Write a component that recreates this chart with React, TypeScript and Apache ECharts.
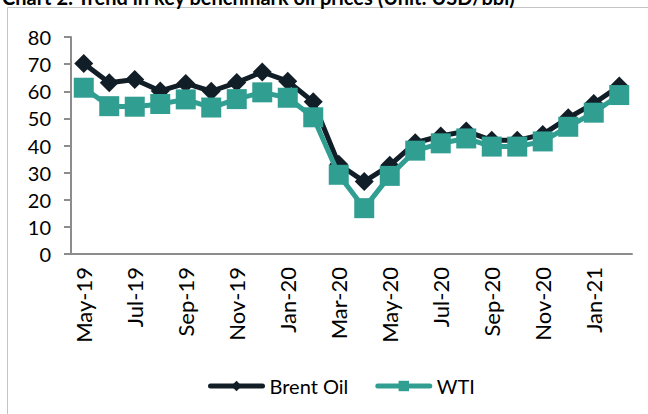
import React, { useEffect, useRef } from "react";
import * as echarts from "echarts";

const categories = [
  "May-19", "Jun-19", "Jul-19", "Aug-19", "Sep-19", "Oct-19", "Nov-19", "Dec-19",
  "Jan-20", "Feb-20", "Mar-20", "Apr-20", "May-20", "Jun-20", "Jul-20", "Aug-20",
  "Sep-20", "Oct-20", "Nov-20", "Dec-20", "Jan-21", "Feb-21",
];
const brentOil = [70.2, 63.1, 64.3, 60.1, 62.9, 60.0, 63.2, 67.1, 63.7, 56.1, 33.1, 26.7, 32.7, 41.0, 43.5, 45.3, 41.9, 41.9, 44.1, 50.2, 55.5, 61.9];
const wti = [61.3, 54.5, 54.3, 55.3, 57.0, 54.0, 57.1, 59.6, 57.6, 50.4, 29.2, 16.9, 28.8, 38.1, 40.8, 42.6, 39.6, 39.6, 41.5, 46.9, 52.1, 58.6];
const seriesNames = ["Brent Oil", "WTI"];
const title = "Chart 2: Trend in key benchmark oil prices (Unit: USD/bbl)";

const FONT = "Lato, 'Open Sans', sans-serif";
const BRENT = "#121e27";
const TEAL = "#319e92";
const AXIS = "#8c8c8c";

export default function App() {
  const ref = useRef<HTMLDivElement>(null);
  useEffect(() => {
    if (!ref.current) return;
    const chart = echarts.init(ref.current, null, { renderer: "svg" });
    chart.setOption({
      animation: false,
      backgroundColor: "#ffffff",
      textStyle: { fontFamily: FONT },
      graphic: [
        {
          type: "rect",
          shape: { x: 7.5, y: 7.5, width: 800, height: 600 },
          style: { fill: "none", stroke: "#c4c4c4", lineWidth: 1 },
          silent: true,
        },
        {
          type: "text",
          x: 2,
          y: 7,
          style: {
            text: title,
            fontFamily: FONT,
            fontSize: 20,
            fontWeight: "bold",
            fill: "#000",
            verticalAlign: "bottom",
            align: "left",
          },
          silent: true,
        },
      ],
      grid: { left: 71, right: 16, top: 37, bottom: 160, containLabel: false },
      legend: {
        data: seriesNames,
        left: 203,
        top: 371,
        itemWidth: 52,
        itemHeight: 13,
        itemGap: 27,
        lineStyle: { width: 5, cap: "round" },
        textStyle: { fontSize: 20, color: "#000", fontFamily: FONT, padding: [0, 0, 0, 2] },
      },
      xAxis: {
        type: "category",
        data: categories,
        boundaryGap: true,
        axisLine: { lineStyle: { color: AXIS, width: 2 } },
        axisTick: { interval: 1, length: 6, lineStyle: { color: AXIS, width: 2 } },
        axisLabel: {
          interval: 1,
          rotate: 90,
          fontSize: 22,
          color: "#000",
          fontFamily: FONT,
          margin: 13,
        },
      },
      yAxis: {
        type: "value",
        min: 0,
        max: 80,
        interval: 10,
        axisLine: { show: true, lineStyle: { color: AXIS, width: 2 } },
        axisTick: { show: true, length: 7, lineStyle: { color: AXIS, width: 2 } },
        splitLine: { show: false },
        axisLabel: { fontSize: 20, color: "#000", fontFamily: FONT, margin: 20 },
      },
      series: [
        {
          name: seriesNames[0],
          type: "line",
          data: brentOil,
          color: BRENT,
          symbol: "diamond",
          symbolSize: 19,
          showAllSymbol: true,
          lineStyle: { width: 5, color: BRENT },
          itemStyle: { color: BRENT },
          z: 2,
        },
        {
          name: seriesNames[1],
          type: "line",
          data: wti,
          color: TEAL,
          symbol: "rect",
          symbolSize: 20,
          showAllSymbol: true,
          lineStyle: { width: 5, color: TEAL },
          itemStyle: { color: TEAL },
          z: 3,
        },
      ],
    });
    return () => chart.dispose();
  }, []);
  return (
    <div
      ref={ref}
      style={{ position: "fixed", left: 0, top: 0, width: 648, height: 414 }}
    />
  );
}
